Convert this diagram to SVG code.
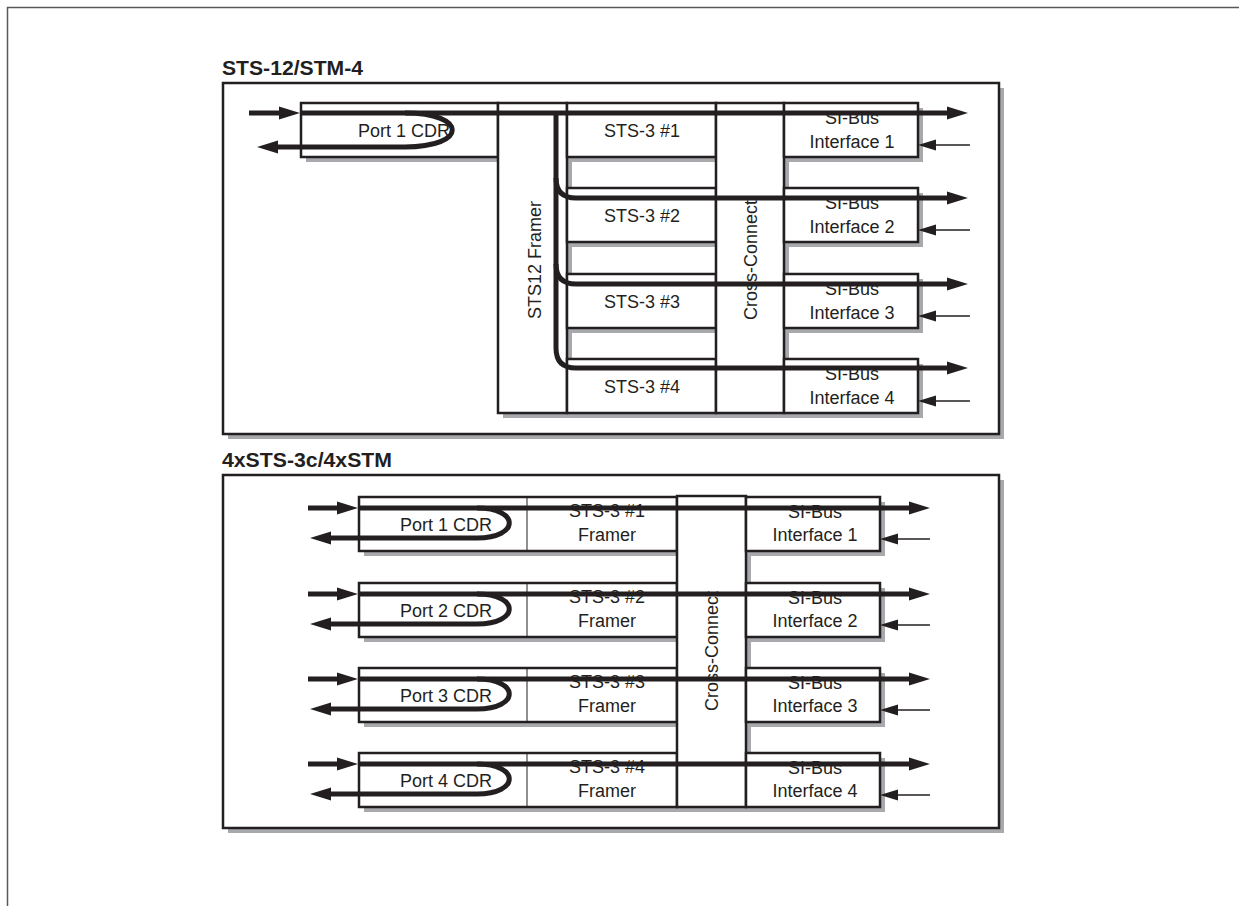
<svg xmlns="http://www.w3.org/2000/svg" width="1239" height="906" viewBox="0 0 1239 906">
<style>
.box{fill:#fff;stroke:#231f20;stroke-width:2.5}
.sh{fill:#a7a9ac}
.t{font-family:"Liberation Sans",Arial,Helvetica,sans-serif;font-size:18px;fill:#231f20}
.c{text-anchor:middle}
.title{font-family:"Liberation Sans",Arial,Helvetica,sans-serif;font-weight:bold;font-size:19.5px;fill:#231f20}
.thick{fill:none;stroke:#231f20;stroke-width:5}
.thin{fill:none;stroke:#231f20;stroke-width:1.5}
.div{stroke:#231f20;stroke-width:1}
</style>
<defs>
<marker id="ah" markerUnits="userSpaceOnUse" markerWidth="22" markerHeight="14" refX="0" refY="7" orient="auto"><path d="M0,0.5 L21,7 L0,13.5 z" fill="#231f20"/></marker>
<marker id="ahs" markerUnits="userSpaceOnUse" markerWidth="19" markerHeight="12" refX="0" refY="6" orient="auto"><path d="M0,0.5 L18,6 L0,11.5 z" fill="#231f20"/></marker>
</defs>
<rect width="1239" height="906" fill="#fff"/>
<path d="M7.5,906 V7.5 H1239" fill="none" stroke="#58595b" stroke-width="1.5"/>

<g id="panel-top">
<text class="title" x="222" y="75" textLength="141" lengthAdjust="spacingAndGlyphs">STS-12/STM-4</text>
<rect class="sh" x="228" y="88" width="776" height="351"/>
<rect class="box" x="223" y="83" width="776" height="351"/>
</g>
<g id="panel-bottom">
<text class="title" x="222" y="467" textLength="170" lengthAdjust="spacingAndGlyphs">4xSTS-3c/4xSTM</text>
<rect class="sh" x="228" y="480" width="776" height="353"/>
<rect class="box" x="223" y="475" width="776" height="353"/>
</g>

<!-- top panel nodes -->
<g id="port1-cdr-top">
<rect class="sh" x="306" y="108" width="197" height="54"/>
<rect class="box" x="301" y="103" width="197" height="54"/>
<text class="t" x="358" y="137">Port 1 CDR</text>
</g>
<g id="sts12-framer">
<rect class="sh" x="503" y="108" width="69" height="310"/>
<rect class="box" x="498" y="103" width="69" height="310"/>
<text class="t c" transform="translate(541,260) rotate(-90)">STS12 Framer</text>
</g>
<g id="sts3-1">
<rect class="sh" x="572" y="108" width="149" height="54"/>
<rect class="box" x="567" y="103" width="149" height="54"/>
<text class="t c" x="642" y="137">STS-3 #1</text>
</g>
<g id="sts3-2">
<rect class="sh" x="572" y="193" width="149" height="54"/>
<rect class="box" x="567" y="188" width="149" height="54"/>
<text class="t c" x="642" y="222">STS-3 #2</text>
</g>
<g id="sts3-3">
<rect class="sh" x="572" y="279" width="149" height="54"/>
<rect class="box" x="567" y="274" width="149" height="54"/>
<text class="t c" x="642" y="308">STS-3 #3</text>
</g>
<g id="sts3-4">
<rect class="sh" x="572" y="364" width="149" height="54"/>
<rect class="box" x="567" y="359" width="149" height="54"/>
<text class="t c" x="642" y="393">STS-3 #4</text>
</g>
<g id="cross-connect-top">
<rect class="sh" x="721" y="108" width="68" height="310"/>
<rect class="box" x="716" y="103" width="68" height="310"/>
<text class="t c" transform="translate(757,260) rotate(-90)">Cross-Connect</text>
</g>
<g id="si-bus-1-top">
<rect class="sh" x="789" y="108" width="134" height="54"/>
<rect class="box" x="784" y="103" width="134" height="54"/>
<text class="t c" x="852" y="124">SI-Bus</text>
<text class="t c" x="852" y="148">Interface 1</text>
</g>
<g id="si-bus-2-top">
<rect class="sh" x="789" y="193" width="134" height="54"/>
<rect class="box" x="784" y="188" width="134" height="54"/>
<text class="t c" x="852" y="209">SI-Bus</text>
<text class="t c" x="852" y="233">Interface 2</text>
</g>
<g id="si-bus-3-top">
<rect class="sh" x="789" y="279" width="134" height="54"/>
<rect class="box" x="784" y="274" width="134" height="54"/>
<text class="t c" x="852" y="295">SI-Bus</text>
<text class="t c" x="852" y="319">Interface 3</text>
</g>
<g id="si-bus-4-top">
<rect class="sh" x="789" y="364" width="134" height="54"/>
<rect class="box" x="784" y="359" width="134" height="54"/>
<text class="t c" x="852" y="380">SI-Bus</text>
<text class="t c" x="852" y="404">Interface 4</text>
</g>

<!-- bottom panel nodes -->
<g id="row1-bottom">
<rect class="sh" x="364" y="502" width="318" height="54"/>
<rect class="box" x="359" y="497" width="318" height="54"/>
<line class="div" x1="527" y1="497" x2="527" y2="551"/>
<text class="t" x="400" y="531">Port 1 CDR</text>
<text class="t c" x="607" y="517">STS-3 #1</text>
<text class="t c" x="607" y="541">Framer</text>
</g>
<g id="row2-bottom">
<rect class="sh" x="364" y="588" width="318" height="54"/>
<rect class="box" x="359" y="583" width="318" height="54"/>
<line class="div" x1="527" y1="583" x2="527" y2="637"/>
<text class="t" x="400" y="617">Port 2 CDR</text>
<text class="t c" x="607" y="603">STS-3 #2</text>
<text class="t c" x="607" y="627">Framer</text>
</g>
<g id="row3-bottom">
<rect class="sh" x="364" y="673" width="318" height="54"/>
<rect class="box" x="359" y="668" width="318" height="54"/>
<line class="div" x1="527" y1="668" x2="527" y2="722"/>
<text class="t" x="400" y="702">Port 3 CDR</text>
<text class="t c" x="607" y="688">STS-3 #3</text>
<text class="t c" x="607" y="712">Framer</text>
</g>
<g id="row4-bottom">
<rect class="sh" x="364" y="758" width="318" height="54"/>
<rect class="box" x="359" y="753" width="318" height="54"/>
<line class="div" x1="527" y1="753" x2="527" y2="807"/>
<text class="t" x="400" y="787">Port 4 CDR</text>
<text class="t c" x="607" y="773">STS-3 #4</text>
<text class="t c" x="607" y="797">Framer</text>
</g>
<g id="cross-connect-bottom">
<rect class="sh" x="682" y="501" width="69" height="311"/>
<rect class="box" x="677" y="496" width="69" height="311"/>
<text class="t c" transform="translate(718,651) rotate(-90)">Cross-Connect</text>
</g>
<g id="si-bus-1-bottom">
<rect class="sh" x="751" y="502" width="134" height="54"/>
<rect class="box" x="746" y="497" width="134" height="54"/>
<text class="t c" x="815" y="518">SI-Bus</text>
<text class="t c" x="815" y="541">Interface 1</text>
</g>
<g id="si-bus-2-bottom">
<rect class="sh" x="751" y="588" width="134" height="54"/>
<rect class="box" x="746" y="583" width="134" height="54"/>
<text class="t c" x="815" y="604">SI-Bus</text>
<text class="t c" x="815" y="627">Interface 2</text>
</g>
<g id="si-bus-3-bottom">
<rect class="sh" x="751" y="673" width="134" height="54"/>
<rect class="box" x="746" y="668" width="134" height="54"/>
<text class="t c" x="815" y="689">SI-Bus</text>
<text class="t c" x="815" y="712">Interface 3</text>
</g>
<g id="si-bus-4-bottom">
<rect class="sh" x="751" y="758" width="134" height="54"/>
<rect class="box" x="746" y="753" width="134" height="54"/>
<text class="t c" x="815" y="774">SI-Bus</text>
<text class="t c" x="815" y="797">Interface 4</text>
</g>

<g id="connectors">
<!-- top panel -->
<path class="thick" d="M249,113 H279" marker-end="url(#ah)"/>
<path class="thick" d="M301,113 H947" marker-end="url(#ah)"/>
<path class="thick" d="M405,113 C468,113 468,147 405,147 H278" marker-end="url(#ah)"/>
<path class="thick" d="M556,113 V348 Q556,368 576,368 H947" marker-end="url(#ah)"/>
<path class="thick" d="M556,178 Q556,198 576,198 H947" marker-end="url(#ah)"/>
<path class="thick" d="M556,264 Q556,284 576,284 H947" marker-end="url(#ah)"/>
<path class="thin" d="M970,145 H936" marker-end="url(#ahs)"/>
<path class="thin" d="M970,230 H936" marker-end="url(#ahs)"/>
<path class="thin" d="M970,316 H936" marker-end="url(#ahs)"/>
<path class="thin" d="M970,401 H936" marker-end="url(#ahs)"/>
<!-- bottom panel -->
<path class="thick" d="M308,508 H337" marker-end="url(#ah)"/>
<path class="thick" d="M359,508 H909" marker-end="url(#ah)"/>
<path class="thick" d="M477,508 C520,508 520,538 477,538 H331" marker-end="url(#ah)"/>
<path class="thin" d="M930,539 H898" marker-end="url(#ahs)"/>
<path class="thick" d="M308,594 H337" marker-end="url(#ah)"/>
<path class="thick" d="M359,594 H909" marker-end="url(#ah)"/>
<path class="thick" d="M477,594 C520,594 520,624 477,624 H331" marker-end="url(#ah)"/>
<path class="thin" d="M930,625 H898" marker-end="url(#ahs)"/>
<path class="thick" d="M308,679 H337" marker-end="url(#ah)"/>
<path class="thick" d="M359,679 H909" marker-end="url(#ah)"/>
<path class="thick" d="M477,679 C520,679 520,709 477,709 H331" marker-end="url(#ah)"/>
<path class="thin" d="M930,710 H898" marker-end="url(#ahs)"/>
<path class="thick" d="M308,764 H337" marker-end="url(#ah)"/>
<path class="thick" d="M359,764 H909" marker-end="url(#ah)"/>
<path class="thick" d="M477,764 C520,764 520,794 477,794 H331" marker-end="url(#ah)"/>
<path class="thin" d="M930,795 H898" marker-end="url(#ahs)"/>
</g>
</svg>
